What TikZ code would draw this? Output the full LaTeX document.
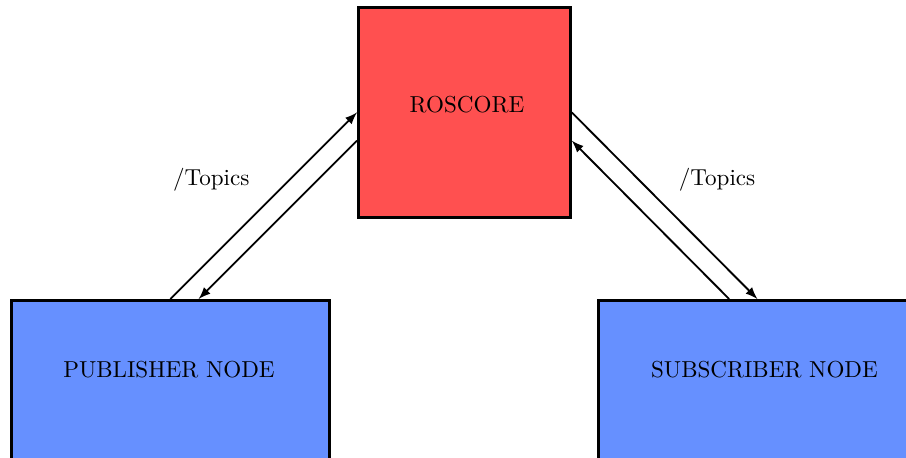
\documentclass[tikz,border=0pt]{standalone}
\usepackage{xcolor}
\usepackage{tikz}
\usetikzlibrary{positioning}

\definecolor{roscolor}{RGB}{255,80,80}
\definecolor{nodecolor}{RGB}{102,144,255}

\tikzset{
    rosbox/.style={draw, very thick, fill=roscolor, minimum width=3.227cm, minimum height=3.196cm, anchor=north west},
    nodebox/.style={draw, very thick, fill=nodecolor, minimum width=4.84cm, minimum height=3cm, anchor=north west},
    conn/.style={->, >=latex, thick}
}

\begin{document}
\begin{tikzpicture}
    \useasboundingbox (0,0) rectangle (13.79,6.956);

    % ROSCORE box
    \node[rosbox] (ros) at (5.434,6.864) {};
    \node (roslabel) at (7.108,5.36) {ROSCORE};

    % Publisher and subscriber
    \node[nodebox] (pub) at (0.152,2.405) {};
    \node (publabel) at (2.572,1.324) {PUBLISHER NODE};

    \node[nodebox] (sub) at (9.087,2.405) {};
    \node (sublabel) at (11.636,1.324) {SUBSCRIBER NODE};

    % Arrows
    \draw[conn] (pub.north) -- (ros.west) node[midway, above left=0.12cm] (topl) {/Topics};
    \draw[conn] ([yshift=-0.43cm]ros.west) -- ([xshift=0.43cm]pub.north);

    \draw[conn] (ros.east) -- (sub.north) node[midway, above right=0.12cm] (topr) {/Topics};
    \draw[conn] ([xshift=-0.43cm]sub.north) -- ([yshift=-0.43cm]ros.east);
\end{tikzpicture}
\end{document}
